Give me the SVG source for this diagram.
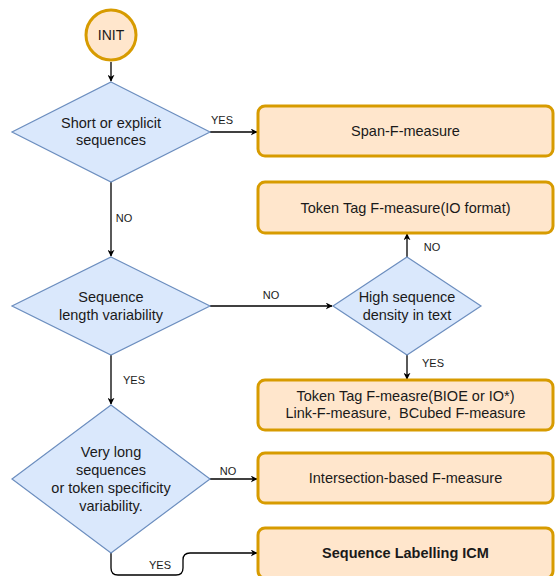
<svg xmlns="http://www.w3.org/2000/svg" width="556" height="576" viewBox="0 0 556 576">
  <style>
    text { font-family: "Liberation Sans", Arial, Helvetica, sans-serif; fill: #1a1a1a; text-anchor: middle; }
    .t { font-size: 14.5px; }
    .lbl { font-size: 11px; }
    .b { font-weight: bold; }
    .box { fill: #ffe6cc; stroke: #d79b00; stroke-width: 3; }
    .dec { fill: #dae8fc; stroke: #6c8ebf; stroke-width: 1.2; }
    .edge { fill: none; stroke: #000; stroke-width: 1.3; marker-end: url(#arrow); }
  </style>
  <defs>
    <marker id="arrow" viewBox="0 0 10 10" refX="9" refY="5" markerWidth="7" markerHeight="7" markerUnits="userSpaceOnUse" orient="auto">
      <path d="M0,0 L10,5 L0,10 L3,5 z" fill="#000"/>
    </marker>
  </defs>
  <rect width="556" height="576" fill="#fff"/>

  <!-- connectors -->
  <g id="connectors">
    <path class="edge" d="M111,62 V81"/>
    <path class="edge" d="M210,132 H257"/>
    <path class="edge" d="M111,182 V256"/>
    <path class="edge" d="M210,306 H332"/>
    <path class="edge" d="M407,257 V234"/>
    <path class="edge" d="M407,355 V379"/>
    <path class="edge" d="M111,355 V404"/>
    <path class="edge" d="M210,479 H257"/>
    <path class="edge" d="M111,553 V568 Q111,575 118,575 H176 Q183,575 183,568 V560 Q183,553 190,553 H257"/>
    <text class="lbl" x="222" y="124">YES</text>
    <text class="lbl" x="124" y="222">NO</text>
    <text class="lbl" x="271" y="299">NO</text>
    <text class="lbl" x="432" y="251">NO</text>
    <text class="lbl" x="433" y="367">YES</text>
    <text class="lbl" x="134" y="384">YES</text>
    <text class="lbl" x="228" y="475">NO</text>
    <text class="lbl" x="160" y="569">YES</text>
  </g>

  <!-- start -->
  <g id="init">
    <circle cx="111" cy="35" r="25" class="box"/>
    <text x="111" y="40" style="font-size:14px">INIT</text>
  </g>

  <!-- decisions -->
  <g id="short-explicit">
    <polygon class="dec" points="111,82 210,132 111,182 12,132"/>
    <text class="t" x="111" y="128">Short or explicit</text>
    <text class="t" x="111" y="145">sequences</text>
  </g>
  <g id="length-variability">
    <polygon class="dec" points="111,257 210,306 111,355 12,306"/>
    <text class="t" x="111" y="302">Sequence</text>
    <text class="t" x="111" y="320">length variability</text>
  </g>
  <g id="sequence-density">
    <polygon class="dec" points="407,257 481,306 407,355 333,306"/>
    <text class="t" x="407" y="302">High sequence</text>
    <text class="t" x="407" y="320">density in text</text>
  </g>
  <g id="long-sequences">
    <polygon class="dec" points="111,405 210,479 111,553 12,479"/>
    <text class="t" x="111" y="457">Very long</text>
    <text class="t" x="111" y="475">sequences</text>
    <text class="t" x="111" y="493">or token specificity</text>
    <text class="t" x="111" y="511">variability.</text>
  </g>

  <!-- metrics -->
  <g id="span-f">
    <rect class="box" x="258" y="106" width="295" height="50" rx="7"/>
    <text class="t" x="405.5" y="136">Span-F-measure</text>
  </g>
  <g id="token-io">
    <rect class="box" x="258" y="182" width="295" height="51" rx="7"/>
    <text class="t" x="405.5" y="212.5">Token Tag F-measure(IO format)</text>
  </g>
  <g id="token-bioe">
    <rect class="box" x="258" y="380" width="295" height="50" rx="7"/>
    <text class="t" x="405.5" y="401">Token Tag F-measre(BIOE or IO*)</text>
    <text class="t" x="405.5" y="418" xml:space="preserve">Link-F-measure,  BCubed F-measure</text>
  </g>
  <g id="intersection">
    <rect class="box" x="258" y="453" width="295" height="50" rx="7"/>
    <text class="t" x="405.5" y="483">Intersection-based F-measure</text>
  </g>
  <g id="icm">
    <rect class="box" x="258" y="528" width="295" height="50" rx="7"/>
    <text class="t b" x="405.5" y="558">Sequence Labelling ICM</text>
  </g>
</svg>
